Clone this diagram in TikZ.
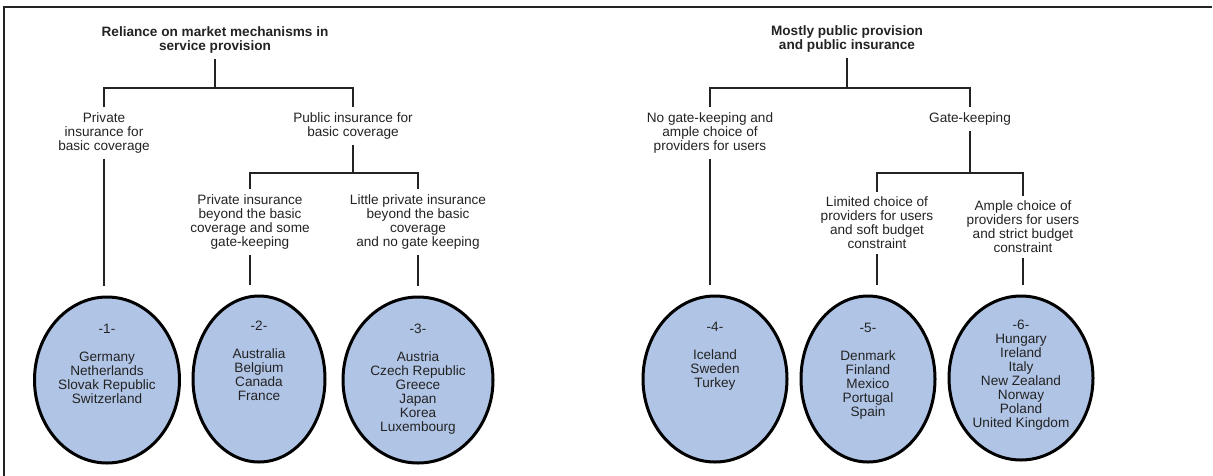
\documentclass[tikz,border=0pt]{standalone}
\usepackage{fontspec}
\setmainfont{Liberation Sans}
\usetikzlibrary{positioning,shapes.geometric}
\definecolor{cellblue}{RGB}{176,196,230}
\definecolor{inkgrey}{RGB}{35,35,35}

\begin{document}
\begin{tikzpicture}[x=1pt,y=-1pt,
    lbl/.style={align=center,inner sep=5pt,font=\fontsize{13.6}{14}\selectfont,text=inkgrey},
    head/.style={lbl,font=\fontsize{13.6}{14}\selectfont\bfseries},
    conn/.style={line width=2.2pt,draw=inkgrey},
    group/.style={ellipse,draw=black,line width=3pt,fill=cellblue,inner sep=0pt},
    members/.style={align=center,inner sep=0pt,font=\fontsize{13.6}{14}\selectfont,text=inkgrey}]
    \useasboundingbox (0,0) rectangle (1213,475);

    % frame (top and left only)
    \draw[line width=2pt,inkgrey] (1212,7) -- (4,7) -- (4,476);

    % market side
    \node[head] (rel) at (215,40) {Reliance on market mechanisms in\\service provision};
    \node[lbl] (priv) at (104,133) {Private\\insurance for\\basic coverage};
    \node[lbl] (pub) at (353,126) {Public insurance for\\basic coverage};
    \node[lbl] (beyond) at (250,222) {Private insurance\\beyond the basic\\coverage and some\\gate-keeping};
    \node[lbl] (little) at (418,222) {Little private insurance\\beyond the basic\\coverage\\and no gate keeping};

    % public side
    \node[head] (most) at (847,39) {Mostly public provision\\and public insurance};
    \node[lbl] (nogate) at (710,133) {No gate-keeping and\\ample choice of\\providers for users};
    \node[lbl] (gate) at (970,119) {Gate-keeping};
    \node[lbl] (limited) at (877,223) {Limited choice of\\providers for users\\and soft budget\\constraint};
    \node[lbl] (ample) at (1023,227) {Ample choice of\\providers for users\\and strict budget\\constraint};

    % country groups
    \node[group,minimum width=145pt,minimum height=166pt] (e1) at (107,380) {};
    \node[group,minimum width=132pt,minimum height=166pt] (e2) at (259,379) {};
    \node[group,minimum width=150pt,minimum height=166pt] (e3) at (418,380) {};
    \node[group,minimum width=144pt,minimum height=166pt] (e4) at (715,379) {};
    \node[group,minimum width=134pt,minimum height=166pt] (e5) at (868,379) {};
    \node[group,minimum width=144pt,minimum height=164pt] (e6) at (1021,378) {};

    \node[members,below=28pt of e1.north] (m1) {-1-\\[14pt]Germany\\Netherlands\\Slovak Republic\\Switzerland};
    \node[members,below=26pt of e2.north] (m2) {-2-\\[14pt]Australia\\Belgium\\Canada\\France};
    \node[members,below=28pt of e3.north] (m3) {-3-\\[14pt]Austria\\Czech Republic\\Greece\\Japan\\Korea\\Luxembourg};
    \node[members,below=27pt of e4.north] (m4) {-4-\\[14pt]Iceland\\Sweden\\Turkey};
    \node[members,below=28pt of e5.north] (m5) {-5-\\[14pt]Denmark\\Finland\\Mexico\\Portugal\\Spain};
    \node[members,below=25pt of e6.north] (m6) {-6-\\Hungary\\Ireland\\Italy\\New Zealand\\Norway\\Poland\\United Kingdom};

    % branching levels
    \coordinate (b1) at (0,88);
    \coordinate (b2) at (0,173);

    % connectors, market side
    \draw[conn] (rel.south) -- (rel.south |- b1);
    \draw[conn] (priv.north) |- (pub.north |- b1) -- (pub.north);
    \draw[conn] (pub.south) -- (pub.south |- b2);
    \draw[conn] (beyond.north) |- (little.north |- b2) -- (little.north);
    \draw[conn,shorten >=10pt] (priv.south) -- (priv.south |- e1.north);
    \draw[conn,shorten >=10pt] (beyond.south) -- (beyond.south |- e2.north);
    \draw[conn,shorten >=10pt] (little.south) -- (little.south |- e3.north);

    % connectors, public side
    \draw[conn] (most.south) -- (most.south |- b1);
    \draw[conn] (nogate.north) |- (gate.north |- b1) -- (gate.north);
    \draw[conn] (gate.south) -- (gate.south |- b2);
    \draw[conn] (limited.north) |- (ample.north |- b2) -- (ample.north);
    \draw[conn,shorten >=10pt] (nogate.south) -- (nogate.south |- e4.north);
    \draw[conn,shorten >=10pt] (limited.south) -- (limited.south |- e5.north);
    \draw[conn,shorten >=10pt] (ample.south) -- (ample.south |- e6.north);
\end{tikzpicture}
\end{document}
